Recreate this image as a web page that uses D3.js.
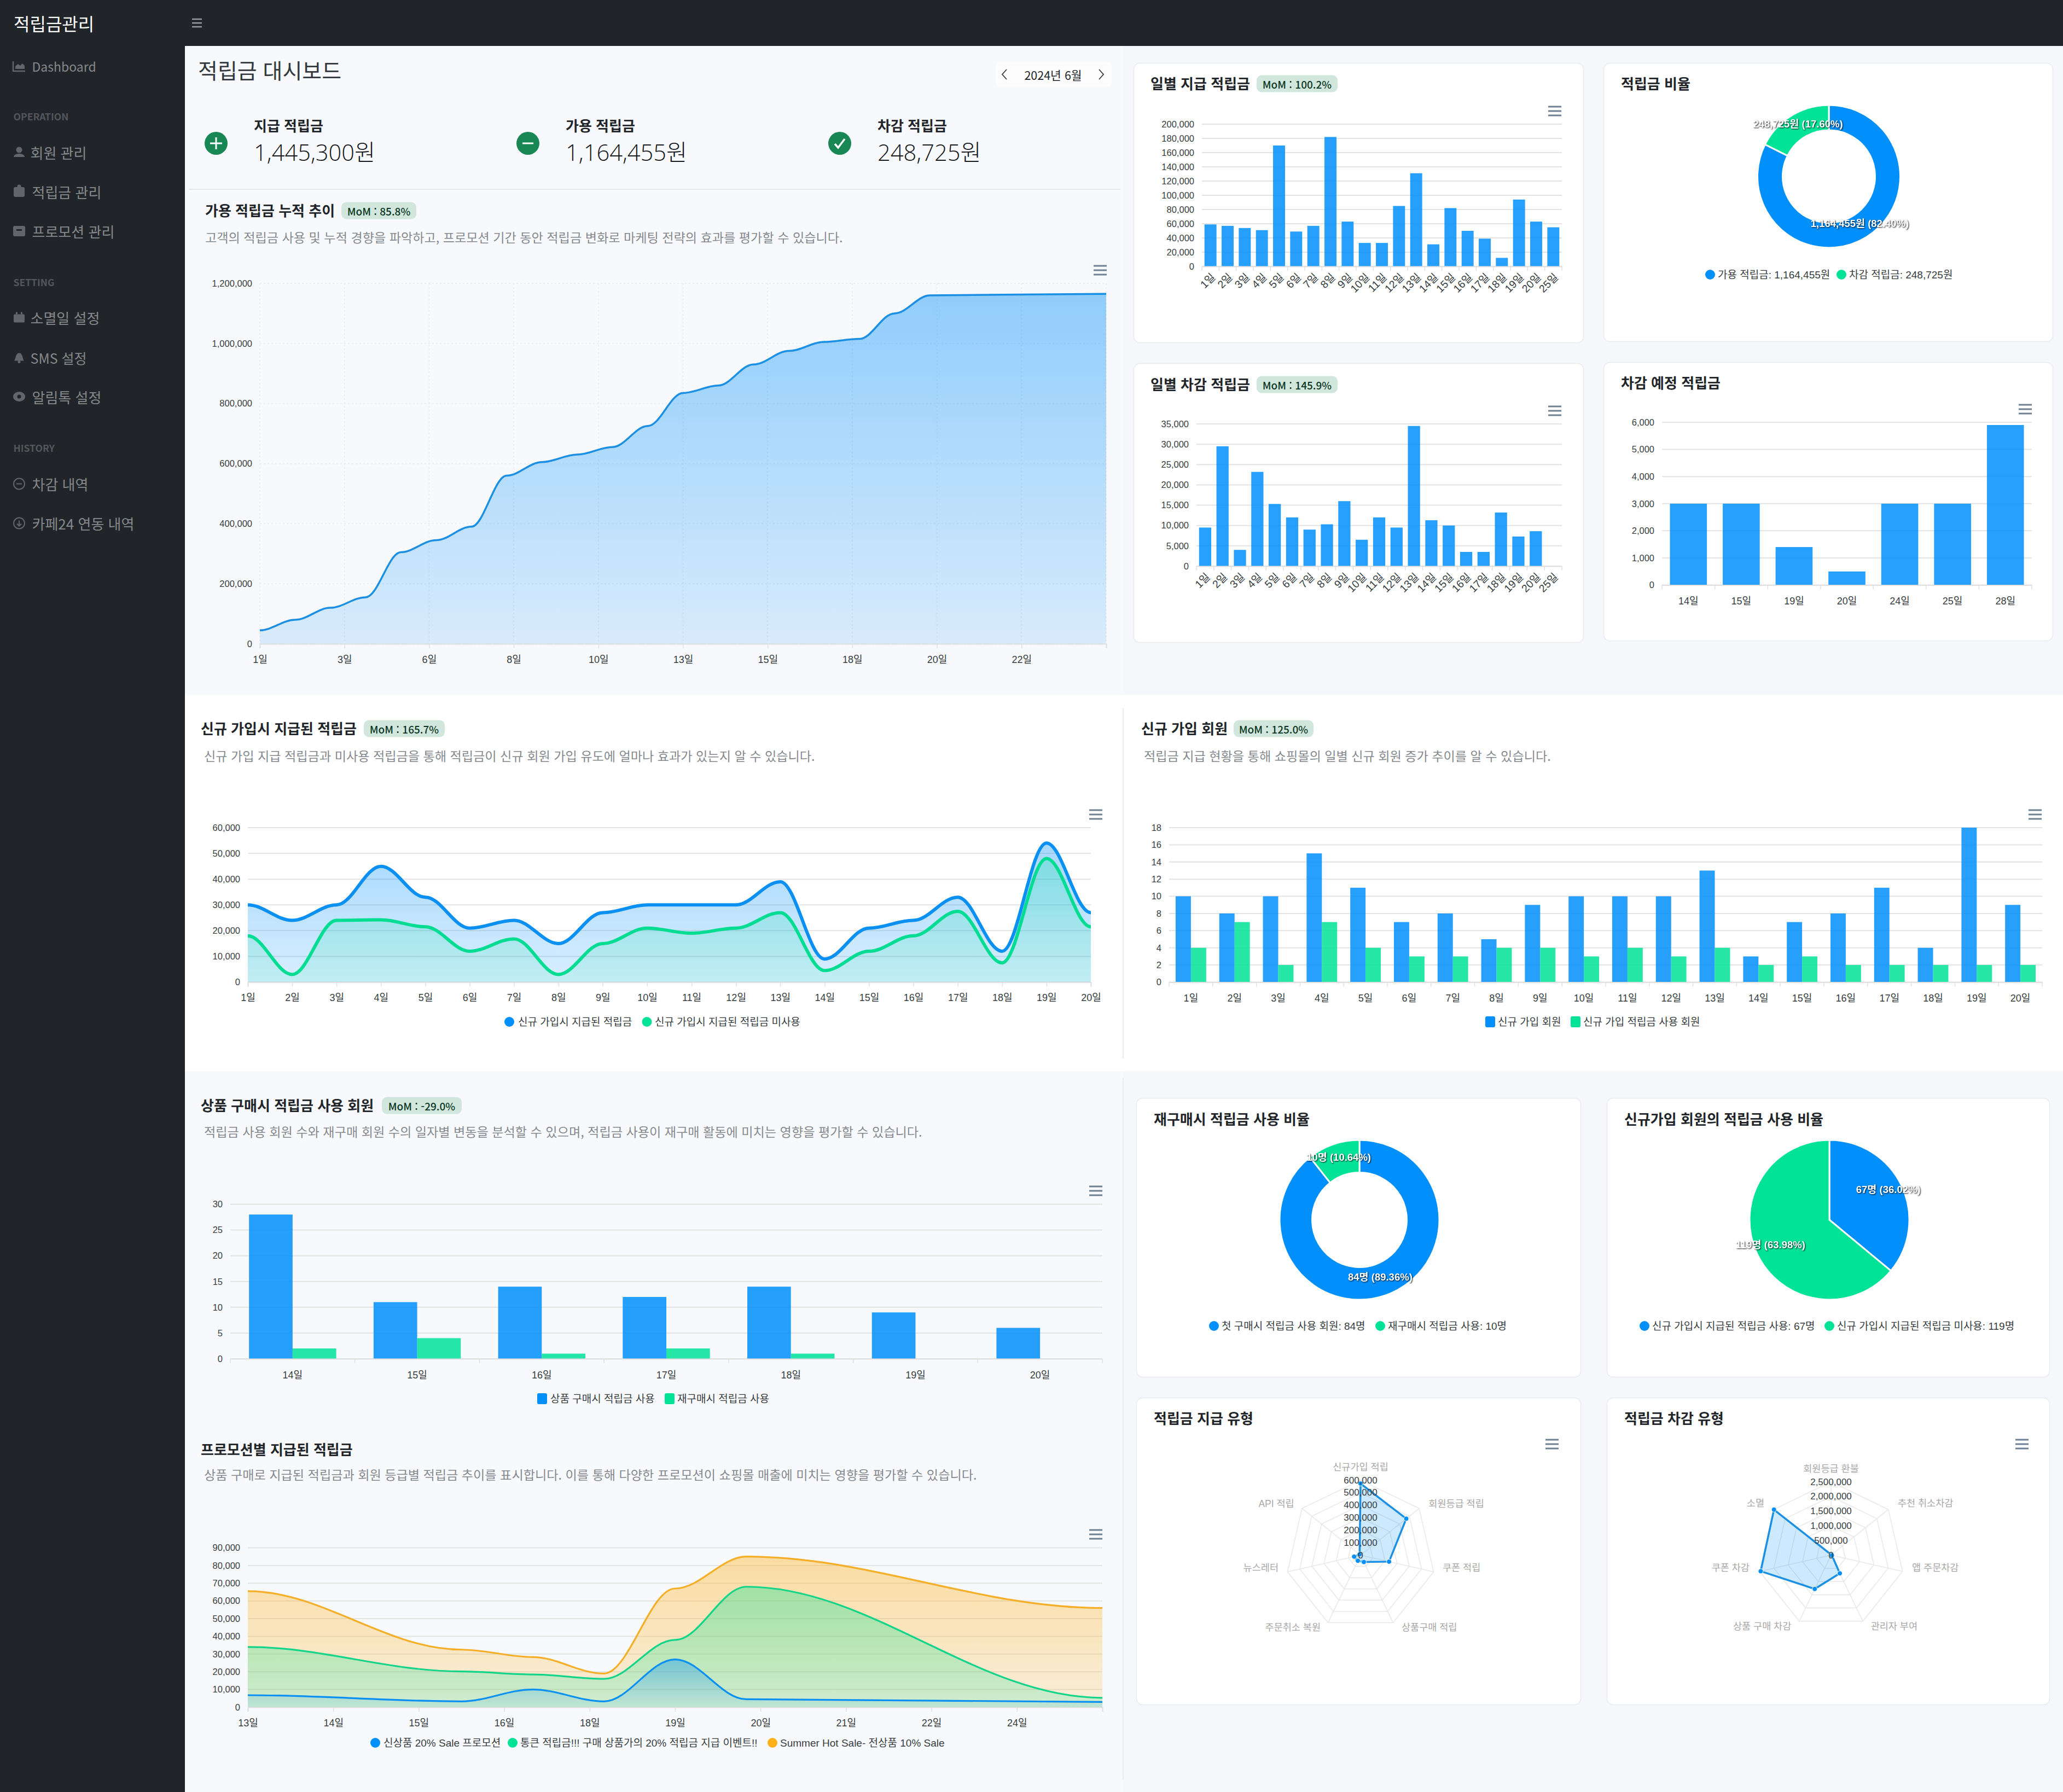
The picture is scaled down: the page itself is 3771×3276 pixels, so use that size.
<!DOCTYPE html>
<html lang="ko">
<head>
<meta charset="utf-8">
<title>적립금 대시보드</title>
<script src="https://cdn.jsdelivr.net/npm/d3@7"></script>
<style>
  html, body { margin: 0; padding: 0; background: #f5f7fb; }
  svg { display: block; }
  text { font-family: "Noto Sans CJK KR", "Noto Sans", sans-serif; }
  .chart text { font-family: "Liberation Sans", "Noto Sans CJK KR", sans-serif; }
  .number { font-family: "Open Sans", "Noto Sans CJK KR", sans-serif !important; font-weight: 300; }
</style>
</head>
<body>
<svg id="page" width="3771" height="3276"></svg>
<script>
// ---- data ----
var dayLabels = ["1일","2일","3일","4일","5일","6일","7일","8일","9일","10일","11일","12일","13일","14일","15일","16일","17일","18일","19일","20일","25일"];
var cumulativeDays = [1,2,3,4,5,6,7,8,9,10,11,12,13,14,15,16,17,18,19,20,25];
var cumulativeValues = [45000,80000,120000,155000,305000,345000,390000,560000,605000,630000,655000,725000,835000,860000,930000,975000,1005000,1015000,1100000,1160000,1165000];
var cumulativeTicks = ["1일","3일","6일","8일","10일","13일","15일","18일","20일","22일",""];

var dailyEarned = [59000,57000,54000,51000,170000,49000,57000,182000,63000,33000,33000,85000,131000,31000,82000,50000,39000,12000,94000,63000,55000];
var dailyDeducted = [9500,29500,4000,23200,15300,12000,9000,10300,16000,6500,12000,9500,34500,11300,10000,3500,3500,13200,7300,8600,0];

var ratioNames = ["가용 적립금","차감 적립금"];
var ratioValues = [1164455,248725];
var ratioLabels = ["1,164,455원 (82.40%)","248,725원 (17.60%)"];
var ratioLegend = ["가용 적립금: 1,164,455원","차감 적립금: 248,725원"];

var plannedDays = ["14일","15일","19일","20일","24일","25일","28일"];
var plannedValues = [3000,3000,1400,500,3000,3000,5900];

var joinDays = dayLabels.slice(0,20);
var joinEarned = [30000,24000,30000,45000,33000,21000,24000,15000,27000,30000,30000,30000,39000,9000,21000,24000,33000,12000,54000,27000];
var joinUnused = [18000,3000,24000,24200,21500,12000,16800,3000,15000,21000,19000,21000,27000,4500,12000,18000,27500,7500,48000,21500];
var joinLegend = ["신규 가입시 지급된 적립금","신규 가입시 지급된 적립금 미사용"];

var newMembers = [10,8,10,15,11,7,8,5,9,10,10,10,13,3,7,8,11,4,18,9];
var newMembersUsing = [4,7,2,7,4,3,3,4,4,3,4,3,4,2,3,2,2,2,2,2];
var memberLegend = ["신규 가입 회원","신규 가입 적립금 사용 회원"];

var purchaseDays = ["14일","15일","16일","17일","18일","19일","20일"];
var purchaseUsers = [28,11,14,12,14,9,6];
var repurchaseUsers = [2,4,1,2,1,0,0];
var purchaseLegend = ["상품 구매시 적립금 사용","재구매시 적립금 사용"];

var promoDays = [13,16,17,18,19,20,25];
var promoNew = [6800,3300,10000,3300,27000,4500,3000];
var promoPoint = [34000,20200,18500,16000,38000,68000,5300];
var promoSummer = [65500,32500,28300,19000,67000,85000,56000];
var promoTicks = ["13일","14일","15일","16일","18일","19일","20일","21일","22일","24일",""];
var promoLegend = ["신상품 20% Sale 프로모션","통큰 적립금!!! 구매 상품가의 20% 적립금 지급 이벤트!!","Summer Hot Sale- 전상품 10% Sale"];

var repurchaseValues = [84,10];
var repurchaseLabels = ["84명 (89.36%)","10명 (10.64%)"];
var repurchaseLegend = ["첫 구매시 적립금 사용 회원: 84명","재구매시 적립금 사용: 10명"];

var joinUseValues = [67,119];
var joinUseLabels = ["67명 (36.02%)","119명 (63.98%)"];
var joinUseLegend = ["신규 가입시 지급된 적립금 사용: 67명","신규 가입시 지급된 적립금 미사용: 119명"];

var earnTypes = ["신규가입 적립","회원등급 적립","쿠폰 적립","상품구매 적립","주문취소 복원","뉴스레터","API 적립"];
var earnTypeValues = [573000,468000,234000,61000,50000,53000,10000];
var useTypes = ["회원등급 환불","추천 취소차감","앱 주문차감","관리자 부여","상품 구매 차감","쿠폰 차감","소멸"];
var useTypeValues = [20000,20000,30000,690000,1280000,2460000,2490000];

var kpiNames = ["지급 적립금","가용 적립금","차감 적립금"];
var kpiValues = ["1,445,300원","1,164,455원","248,725원"];

var BLUE = "#008FFB", GREEN = "#00E396", ORANGE = "#FEB019";
var svg = d3.select("#page");
var defs = svg.append("defs");

// Apex style smooth line: horizontal tangents at every point, control points at 35%
function ApexCurve(context) { this._context = context; }
ApexCurve.prototype = {
  areaStart: function() { this._line = 0; },
  areaEnd: function() { this._line = NaN; },
  lineStart: function() { this._point = 0; },
  lineEnd: function() {
    if (this._line || (this._line !== 0 && this._point === 1)) this._context.closePath();
    this._line = 1 - this._line;
  },
  point: function(x, y) {
    x = +x; y = +y;
    if (this._point === 0) {
      this._point = 1;
      if (this._line) this._context.lineTo(x, y); else this._context.moveTo(x, y);
    } else {
      this._point = 2;
      var k = (x - this._x0) * 0.35;
      this._context.bezierCurveTo(this._x0 + k, this._y0, x - k, y, x, y);
    }
    this._x0 = x; this._y0 = y;
  }
};
var curveApex = function(context) { return new ApexCurve(context); };

// ---- text and small parts ----
function text(g, x, y, str, size, color, weight, anchor) {
  return g.append("text")
    .attr("x", x).attr("y", y)
    .attr("dominant-baseline", "central")
    .attr("text-anchor", anchor || "start")
    .attr("font-size", size)
    .attr("font-weight", weight || 400)
    .attr("fill", color)
    .text(str);
}

function heading(x, y, str, badge, badgeX, badgeW) {
  text(svg, x, y - 1.5, str, 26, "#212529", 700);
  if (badge) {
    svg.append("rect").attr("x", badgeX).attr("y", y - 15.5).attr("width", badgeW).attr("height", 31)
      .attr("rx", 9).attr("fill", "#d1e7dd");
    text(svg, badgeX + badgeW / 2, y, badge, 19, "#0a3622", 500, "middle");
  }
}

function description(x, y, str) {
  text(svg, x, y, str, 23.13, "#85898e");
}

function card(x, y, w, h) {
  svg.append("rect").attr("x", x + 0.5).attr("y", y + 0.5).attr("width", w).attr("height", h)
    .attr("rx", 11).attr("fill", "#fff").attr("stroke", "#e9ebef").attr("stroke-width", 1.5);
}

function menuIcon(cx, cy) {
  [-8, 0, 8].forEach(function(d) {
    svg.append("line").attr("x1", cx - 12).attr("x2", cx + 12).attr("y1", cy + d).attr("y2", cy + d)
      .attr("stroke", "#6e8192").attr("stroke-width", 3);
  });
}

function legend(items, y, size, shape) {
  var g = svg.append("g").attr("class", "chart");
  items.forEach(function(d) {
    if (shape === "square") {
      g.append("rect").attr("x", d.mark - 9).attr("y", y - 10).attr("width", 18).attr("height", 20)
        .attr("rx", 3).attr("fill", d.color);
    } else {
      g.append("circle").attr("cx", d.mark).attr("cy", y).attr("r", 9).attr("fill", d.color);
    }
    text(g, d.x, y, d.label, size, "#373d3f");
  });
}

function gradient(id, color, from, to) {
  var lg = defs.append("linearGradient").attr("id", id).attr("x1", 0).attr("x2", 0).attr("y1", 0).attr("y2", 1);
  lg.append("stop").attr("offset", "0%").attr("stop-color", color).attr("stop-opacity", from);
  lg.append("stop").attr("offset", "100%").attr("stop-color", color).attr("stop-opacity", to);
  return "url(#" + id + ")";
}

function yAxis(g, y, x0, x1, ticks, dash, gridColor) {
  g.selectAll(".grid").data(ticks).enter().append("line").attr("class", "grid")
    .attr("x1", x0).attr("x2", x1)
    .attr("y1", function(d) { return y(d); }).attr("y2", function(d) { return y(d); })
    .attr("stroke", gridColor || "#e3e3e3").attr("stroke-width", 2)
    .attr("stroke-dasharray", dash || null);
  var axis = g.append("g").attr("transform", "translate(" + x0 + ",0)")
    .call(d3.axisLeft(y).tickValues(ticks).tickSize(0).tickPadding(14).tickFormat(d3.format(",")));
  axis.select(".domain").remove();
  axis.selectAll("text").attr("font-size", 16.5).attr("fill", "#373d3f");
}

// x axis with a tick on every point (area charts)
function pointAxis(g, x, yBase, labels) {
  var axis = g.append("g").attr("transform", "translate(0," + yBase + ")")
    .call(d3.axisBottom(x).tickSize(8).tickPadding(14));
  axis.select(".domain").attr("stroke", "#e0e0e0").attr("stroke-width", 2);
  axis.selectAll("line").attr("stroke", "#e0e0e0").attr("stroke-width", 1.5);
  axis.selectAll("text").attr("font-size", 18).attr("fill", "#373d3f");
}

// grouped bars with ticks on the band edges
function barChart(o) {
  var g = svg.append("g").attr("class", "chart");
  var ticks = d3.range(0, o.max + o.step, o.step);
  var y = d3.scaleLinear().domain([0, o.max]).range([o.base, o.top]);
  var x = d3.scaleBand().domain(o.cats).range([o.x0, o.x1]).paddingInner(0.3).paddingOuter(0.15);
  var inner = d3.scaleBand().domain(d3.range(o.series.length)).range([0, x.bandwidth()]);
  yAxis(g, y, o.x0, o.x1, ticks);

  o.series.forEach(function(s, i) {
    g.append("g").selectAll("rect").data(s.values).enter().append("rect")
      .attr("x", function(d, k) { return x(o.cats[k]) + inner(i); })
      .attr("y", function(d) { return y(d); })
      .attr("width", inner.bandwidth())
      .attr("height", function(d) { return o.base - y(d); })
      .attr("fill", s.color).attr("fill-opacity", 0.85);
  });

  var axis = g.append("g").attr("transform", "translate(0," + o.base + ")")
    .call(d3.axisBottom(x).tickSize(0).tickPadding(o.rotate ? 12 : 23));
  axis.select(".domain").attr("stroke", "#e0e0e0").attr("stroke-width", 2);
  axis.selectAll("text").attr("font-size", 18).attr("fill", "#373d3f");
  if (o.rotate) {
    axis.selectAll("text").attr("font-size", 19.5).attr("text-anchor", "end").attr("y", 0).attr("dy", 0)
      .attr("transform", "translate(10,21) rotate(-45)");
  }
  g.selectAll(".edge").data(d3.range(o.cats.length + 1)).enter().append("line").attr("class", "edge")
    .attr("x1", function(i) { return o.x0 + i * x.step(); })
    .attr("x2", function(i) { return o.x0 + i * x.step(); })
    .attr("y1", o.base).attr("y2", o.base + 8)
    .attr("stroke", "#e0e0e0").attr("stroke-width", 1.5);
}

// layered smooth areas
function areaChart(o) {
  var g = svg.append("g").attr("class", "chart");
  var y = d3.scaleLinear().domain([0, o.max]).range([o.base, o.top]);
  yAxis(g, y, o.x0, o.x1, d3.range(0, o.max + o.step, o.step), o.dash, o.gridColor);
  if (o.vertical) {
    g.selectAll(".vgrid").data(o.ticks).enter().append("line").attr("class", "vgrid")
      .attr("x1", function(d) { return o.tickScale(d); }).attr("x2", function(d) { return o.tickScale(d); })
      .attr("y1", o.top).attr("y2", o.base)
      .attr("stroke", o.gridColor).attr("stroke-width", 2).attr("stroke-dasharray", o.dash);
  }
  var area = d3.area().curve(curveApex)
    .x(function(d, i) { return o.x(o.keys[i]); })
    .y0(o.base).y1(function(d) { return y(d); });
  var line = d3.line().curve(curveApex)
    .x(function(d, i) { return o.x(o.keys[i]); })
    .y(function(d) { return y(d); });
  o.series.forEach(function(s) {
    g.append("path").datum(s.values).attr("d", area).attr("fill", s.fill);
  });
  o.series.forEach(function(s) {
    g.append("path").datum(s.values).attr("d", line).attr("fill", "none")
      .attr("stroke", s.stroke).attr("stroke-width", o.lineWidth);
  });
  pointAxis(g, o.tickScale, o.base);
}

function donut(cx, cy, outer, inner, labelInner, labelOuter, values, labels, colors) {
  var g = svg.append("g").attr("class", "chart").attr("transform", "translate(" + cx + "," + cy + ")");
  var arcs = d3.pie().sort(null)(values);
  var arc = d3.arc().innerRadius(inner).outerRadius(outer);
  var labelArc = d3.arc().innerRadius(labelInner).outerRadius(labelOuter);
  g.selectAll("path").data(arcs).enter().append("path")
    .attr("d", arc)
    .attr("fill", function(d, i) { return colors[i]; })
    .attr("stroke", "#fff").attr("stroke-width", 3);
  arcs.forEach(function(d, i) {
    var c = labelArc.centroid(d);
    text(g, c[0], c[1] - 5, labels[i], 18.5, "#fff", 700, "middle")
      .style("filter", "drop-shadow(1.5px 1.5px 1px rgba(0,0,0,.9))");
  });
}

function radar(cx, cy, R, max, step, names, values, nudges) {
  var g = svg.append("g").attr("class", "chart").attr("transform", "translate(" + cx + "," + cy + ")");
  var n = names.length, idx = d3.range(n);
  var r = d3.scaleLinear().domain([0, max]).range([0, R]);
  var angle = function(i) { return i * 2 * Math.PI / n; };
  var ticks = d3.range(step, max + step, step);
  var ring = d3.lineRadial().curve(d3.curveLinearClosed)
    .angle(function(d) { return angle(d.i); })
    .radius(function(d) { return r(d.v); });
  ticks.forEach(function(t) {
    g.append("path").datum(idx.map(function(i) { return { i: i, v: t }; }))
      .attr("d", ring).attr("fill", "none").attr("stroke", "#e8e8e8").attr("stroke-width", 1.5);
  });
  idx.forEach(function(i) {
    var p = d3.pointRadial(angle(i), R);
    g.append("line").attr("x2", p[0]).attr("y2", p[1]).attr("stroke", "#e8e8e8").attr("stroke-width", 1.5);
  });
  var pts = values.map(function(v, i) { return { i: i, v: v }; });
  g.append("path").datum(pts).attr("d", ring)
    .attr("fill", BLUE).attr("fill-opacity", 0.2).attr("stroke", "#1a8fe3").attr("stroke-width", 3.5);
  g.selectAll("circle").data(pts).enter().append("circle")
    .attr("cx", function(d) { return d3.pointRadial(angle(d.i), r(d.v))[0]; })
    .attr("cy", function(d) { return d3.pointRadial(angle(d.i), r(d.v))[1]; })
    .attr("r", 4.5).attr("fill", BLUE).attr("stroke", "#fff").attr("stroke-width", 1);
  d3.range(0, max + step, step).forEach(function(t) {
    text(g, 0, -r(t), d3.format(",")(t), 17, "#373d3f", 400, "middle");
  });
  names.forEach(function(name, i) {
    var p = d3.pointRadial(angle(i), R + 22);
    var anchor = i === 0 ? "middle" : (i < n / 2 ? "start" : "end");
    text(g, p[0] + nudges[i][0], p[1] + nudges[i][1], name, 17.5, "#a8a8a8", 400, anchor);
  });
}

// ---- page frame ----
svg.append("rect").attr("width", 3771).attr("height", 3276).attr("fill", "#f5f7fb");
svg.append("rect").attr("x", 338).attr("y", 84).attr("width", 1715).attr("height", 3192).attr("fill", "#f8f9fc");
svg.append("rect").attr("x", 338).attr("y", 1270).attr("width", 3433).attr("height", 688).attr("fill", "#fff");
svg.append("line").attr("x1", 2053).attr("x2", 2053).attr("y1", 1295).attr("y2", 1935).attr("stroke", "#e9ebef").attr("stroke-width", 2);
svg.append("line").attr("x1", 2053).attr("x2", 2053).attr("y1", 1970).attr("y2", 3253).attr("stroke", "#e9ebef").attr("stroke-width", 2);
svg.append("rect").attr("width", 3771).attr("height", 84).attr("fill", "#212529");
svg.append("rect").attr("width", 338).attr("height", 3276).attr("fill", "#212529");

// ---- sidebar ----
var sideHeads = [["OPERATION", 212], ["SETTING", 515], ["HISTORY", 818]];
var sideItems = [
  ["Dashboard", 121, 58.5, "chart", 23], ["회원 관리", 278, 55.5, "user", 26], ["적립금 관리", 350, 58.5, "bag", 26],
  ["프로모션 관리", 422, 58.5, "box", 26], ["소멸일 설정", 580.5, 55.5, "cal", 26], ["SMS 설정", 653.5, 55.5, "bell", 25],
  ["알림톡 설정", 725, 58.5, "chat", 26], ["차감 내역", 884.5, 58.5, "minus", 26], ["카페24 연동 내역", 956.5, 58.5, "down", 26]
];
text(svg, 25, 41.5, "적립금관리", 32, "#fff");
[-7, 0, 7].forEach(function(d) {
  svg.append("line").attr("x1", 351).attr("x2", 369).attr("y1", 42 + d).attr("y2", 42 + d)
    .attr("stroke", "#9a9da0").attr("stroke-width", 2.5);
});
sideHeads.forEach(function(d) { text(svg, 24.5, d[1], d[0], 17.5, "#53575b", 700); });
sideItems.forEach(function(d) {
  text(svg, d[2], d[1], d[0], d[4], "#85888b");
  var ic = svg.append("g").attr("transform", "translate(35," + d[1] + ")").attr("fill", "#62666a").attr("stroke", "none");
  if (d[3] === "chart") {
    ic.append("path").attr("d", "M-11,-9 V9 H11").attr("fill", "none").attr("stroke", "#62666a").attr("stroke-width", 2.5);
    ic.append("path").attr("d", "M-7,5 V0 L-2,-4 L2,-1 L6,-5 L10,-1 V5 Z");
  } else if (d[3] === "user") {
    ic.append("circle").attr("cy", -4).attr("r", 5.5);
    ic.append("path").attr("d", "M-10,9 C-10,1 10,1 10,9 Z");
  } else if (d[3] === "bag") {
    ic.append("rect").attr("x", -10).attr("y", -8).attr("width", 20).attr("height", 18).attr("rx", 3);
    ic.append("circle").attr("cy", -9).attr("r", 3.5);
  } else if (d[3] === "box") {
    ic.append("rect").attr("x", -11).attr("y", -9).attr("width", 22).attr("height", 19).attr("rx", 3);
    ic.append("rect").attr("x", -5).attr("y", -3).attr("width", 10).attr("height", 3).attr("fill", "#212529");
  } else if (d[3] === "cal") {
    ic.append("rect").attr("x", -10).attr("y", -6).attr("width", 20).attr("height", 15).attr("rx", 2);
    ic.append("rect").attr("x", -6).attr("y", -10).attr("width", 3).attr("height", 4);
    ic.append("rect").attr("x", 3).attr("y", -10).attr("width", 3).attr("height", 4);
  } else if (d[3] === "bell") {
    ic.append("path").attr("d", "M-9,6 C-6,3 -7,-8 0,-8 C7,-8 6,3 9,6 Z");
    ic.append("circle").attr("cy", 8).attr("r", 2.5);
  } else if (d[3] === "chat") {
    ic.append("ellipse").attr("rx", 11).attr("ry", 9);
    ic.append("circle").attr("r", 3.5).attr("fill", "#212529");
  } else {
    ic.append("circle").attr("r", 10).attr("fill", "none").attr("stroke", "#62666a").attr("stroke-width", 2);
    if (d[3] === "minus") {
      ic.append("line").attr("x1", -5).attr("x2", 5).attr("stroke", "#62666a").attr("stroke-width", 2);
    } else {
      ic.append("path").attr("d", "M0,-5 V4 M-4,1 L0,5 L4,1").attr("fill", "none").attr("stroke", "#62666a").attr("stroke-width", 2);
    }
  }
});

// ---- dashboard head ----
text(svg, 362, 127, "적립금 대시보드", 39, "#33383d");
svg.append("rect").attr("x", 1820).attr("y", 113).attr("width", 212).attr("height", 46).attr("rx", 8).attr("fill", "#fdfdfe");
text(svg, 1925, 136, "2024년 6월", 21.5, "#212529", 400, "middle");
[[1836, -1], [2013, 1]].forEach(function(c) {
  svg.append("path").attr("d", "M" + (c[0] - c[1] * 4) + ",127 l" + (c[1] * 8) + ",9 l" + (-c[1] * 8) + ",9")
    .attr("fill", "none").attr("stroke", "#33383d").attr("stroke-width", 1.8);
});

[395, 965, 1535].forEach(function(cx, i) {
  svg.append("circle").attr("cx", cx).attr("cy", 262).attr("r", 21).attr("fill", "#198754");
  var d = ["M-11,0 H11 M0,-11 V11", "M-10,0 H10", "M-9,1 L-3,8 L9,-8"][i];
  svg.append("path").attr("transform", "translate(" + cx + ",262)").attr("d", d)
    .attr("fill", "none").attr("stroke", "#fff").attr("stroke-width", i === 2 ? 3.5 : 3);
  text(svg, cx + 69, 228.5, kpiNames[i], 26, "#212529", 700);
  text(svg, cx + 69, 278, kpiValues[i], 41.6, "#16191c").attr("class", "number");
});
svg.append("line").attr("x1", 345).attr("x2", 2048).attr("y1", 346).attr("y2", 346).attr("stroke", "#e4e6ea").attr("stroke-width", 2);

// ---- cumulative chart ----
heading(375, 385, "가용 적립금 누적 추이", "MoM : 85.8%", 624, 137);
description(375, 433, "고객의 적립금 사용 및 누적 경향을 파악하고, 프로모션 기간 동안 적립금 변화로 마케팅 전략의 효과를 평가할 수 있습니다.");
menuIcon(2011, 494);
areaChart({
  x0: 475, x1: 2022, top: 518, base: 1177, max: 1200000, step: 200000,
  dash: "3,4", gridColor: "#eceef1", vertical: true, lineWidth: 3.5,
  x: d3.scaleLinear().domain([1, 25]).range([475, 2022]), keys: cumulativeDays,
  ticks: cumulativeTicks, tickScale: d3.scalePoint().domain(cumulativeTicks).range([475, 2022]),
  series: [{ values: cumulativeValues, stroke: "#1a8fe3", fill: gradient("gCum", BLUE, 0.42, 0.13) }]
});

// ---- right top cards ----
card(2072, 115, 822, 511);
heading(2103, 153, "일별 지급 적립금", "MoM : 100.2%", 2297, 148);
menuIcon(2842, 203);
barChart({ x0: 2197, x1: 2855, top: 227, base: 487, max: 200000, step: 20000, rotate: true,
  cats: dayLabels, series: [{ values: dailyEarned, color: BLUE }] });

card(2931, 115, 821, 509);
heading(2963, 153, "적립금 비율");
donut(3343, 322.5, 130.5, 84.5, 86, 129, ratioValues, ratioLabels, [BLUE, GREEN]);
legend([{ mark: 3126, x: 3140, label: ratioLegend[0], color: BLUE }, { mark: 3366, x: 3380, label: ratioLegend[1], color: GREEN }], 502, 19);

card(2072, 664, 822, 510);
heading(2103, 703, "일별 차감 적립금", "MoM : 145.9%", 2297, 148);
menuIcon(2842, 751);
barChart({ x0: 2187, x1: 2855, top: 775, base: 1035, max: 35000, step: 5000, rotate: true,
  cats: dayLabels, series: [{ values: dailyDeducted, color: BLUE }] });

card(2931, 662, 821, 509);
heading(2963, 700, "차감 예정 적립금");
menuIcon(3702, 748);
barChart({ x0: 3038, x1: 3714, top: 772, base: 1069.5, max: 6000, step: 1000,
  cats: plannedDays, series: [{ values: plannedValues, color: BLUE }] });

// ---- white strip ----
heading(367, 1332, "신규 가입시 지급된 적립금", "MoM : 165.7%", 665, 148);
description(373, 1381, "신규 가입 지급 적립금과 미사용 적립금을 통해 적립금이 신규 회원 가입 유도에 얼마나 효과가 있는지 알 수 있습니다.");
menuIcon(2003, 1489);
var joinX = d3.scalePoint().domain(joinDays).range([453, 1994]);
areaChart({
  x0: 453, x1: 1994, top: 1513, base: 1795.5, max: 60000, step: 10000, lineWidth: 6,
  x: function(k) { return joinX(k); }, keys: joinDays, tickScale: joinX,
  series: [
    { values: joinEarned, stroke: "#0a8ff2", fill: gradient("gJoinA", BLUE, 0.35, 0.15) },
    { values: joinUnused, stroke: "#00dc92", fill: gradient("gJoinB", GREEN, 0.25, 0.1) }
  ]
});
legend([{ mark: 931, x: 947, label: joinLegend[0], color: BLUE }, { mark: 1182.5, x: 1197, label: joinLegend[1], color: GREEN }], 1868, 19);

heading(2086, 1332, "신규 가입 회원", "MoM : 125.0%", 2255, 146);
description(2091, 1381, "적립금 지급 현황을 통해 쇼핑몰의 일별 신규 회원 증가 추이를 알 수 있습니다.");
menuIcon(3720, 1489);
barChart({ x0: 2137, x1: 3733, top: 1513, base: 1795.5, max: 18, step: 2,
  cats: joinDays, series: [{ values: newMembers, color: BLUE }, { values: newMembersUsing, color: GREEN }] });
legend([{ mark: 2724, x: 2738, label: memberLegend[0], color: BLUE }, { mark: 2880, x: 2894, label: memberLegend[1], color: GREEN }], 1868, 19, "square");

// ---- bottom left ----
heading(367, 2021, "상품 구매시 적립금 사용 회원", "MoM : -29.0%", 698, 146);
description(373, 2068, "적립금 사용 회원 수와 재구매 회원 수의 일자별 변동을 분석할 수 있으며, 적립금 사용이 재구매 활동에 미치는 영향을 평가할 수 있습니다.");
menuIcon(2003, 2177);
barChart({ x0: 421, x1: 2015, top: 2201.5, base: 2484, max: 30, step: 5,
  cats: purchaseDays, series: [{ values: purchaseUsers, color: BLUE }, { values: repurchaseUsers, color: GREEN }] });
legend([{ mark: 991, x: 1006, label: purchaseLegend[0], color: BLUE }, { mark: 1224, x: 1238, label: purchaseLegend[1], color: GREEN }], 2557, 19, "square");

heading(367, 2650, "프로모션별 지급된 적립금");
description(373, 2695, "상품 구매로 지급된 적립금과 회원 등급별 적립금 추이를 표시합니다. 이를 통해 다양한 프로모션이 쇼핑몰 매출에 미치는 영향을 평가할 수 있습니다.");
menuIcon(2003, 2805);
areaChart({
  x0: 453, x1: 2015, top: 2829.5, base: 3121, max: 90000, step: 10000, lineWidth: 3.2,
  x: d3.scaleLinear().domain([13, 25]).range([453, 2015]), keys: promoDays,
  tickScale: d3.scalePoint().domain(promoTicks).range([453, 2015]),
  series: [
    { values: promoSummer, stroke: "#f5ae27", fill: gradient("gPromoC", ORANGE, 0.4, 0.15) },
    { values: promoPoint, stroke: "#13d488", fill: gradient("gPromoB", GREEN, 0.36, 0.16) },
    { values: promoNew, stroke: "#0a8ff2", fill: gradient("gPromoA", BLUE, 0.38, 0.08) }
  ]
});
legend([
  { mark: 686, x: 701, label: promoLegend[0], color: BLUE },
  { mark: 937, x: 951, label: promoLegend[1], color: GREEN },
  { mark: 1412, x: 1426, label: promoLegend[2], color: ORANGE }
], 3186, 19);

// ---- bottom right cards ----
card(2077, 2007, 812, 510);
heading(2109, 2046, "재구매시 적립금 사용 비율");
donut(2485, 2230, 146, 86.5, 88, 143, repurchaseValues, repurchaseLabels, [BLUE, GREEN]);
legend([{ mark: 2219, x: 2233, label: repurchaseLegend[0], color: BLUE }, { mark: 2523, x: 2537, label: repurchaseLegend[1], color: GREEN }], 2424, 19);

card(2937, 2007, 809, 510);
heading(2969, 2046, "신규가입 회원의 적립금 사용 비율");
donut(3344, 2230, 146, 0, 95, 143, joinUseValues, joinUseLabels, [BLUE, GREEN]);
legend([{ mark: 3006, x: 3020, label: joinUseLegend[0], color: BLUE }, { mark: 3344, x: 3358, label: joinUseLegend[1], color: GREEN }], 2424, 19);

card(2077, 2555, 812, 561);
heading(2109, 2593, "적립금 지급 유형");
menuIcon(2837, 2640);
radar(2487, 2843, 137, 600000, 100000, earnTypes, earnTypeValues,
  [[0, -2], [0, 5], [-5, -12], [6, -11], [-4, -11], [5, -12], [3, 5]]);

card(2937, 2555, 809, 561);
heading(2969, 2593, "적립금 차감 유형");
menuIcon(3696, 2640);
radar(3347, 2843, 134, 2500000, 500000, useTypes, useTypeValues,
  [[0, -2], [0, 2], [-4, -12], [5, -11], [-5, -11], [3, -12], [0, 2]]);
</script>
</body>
</html>
